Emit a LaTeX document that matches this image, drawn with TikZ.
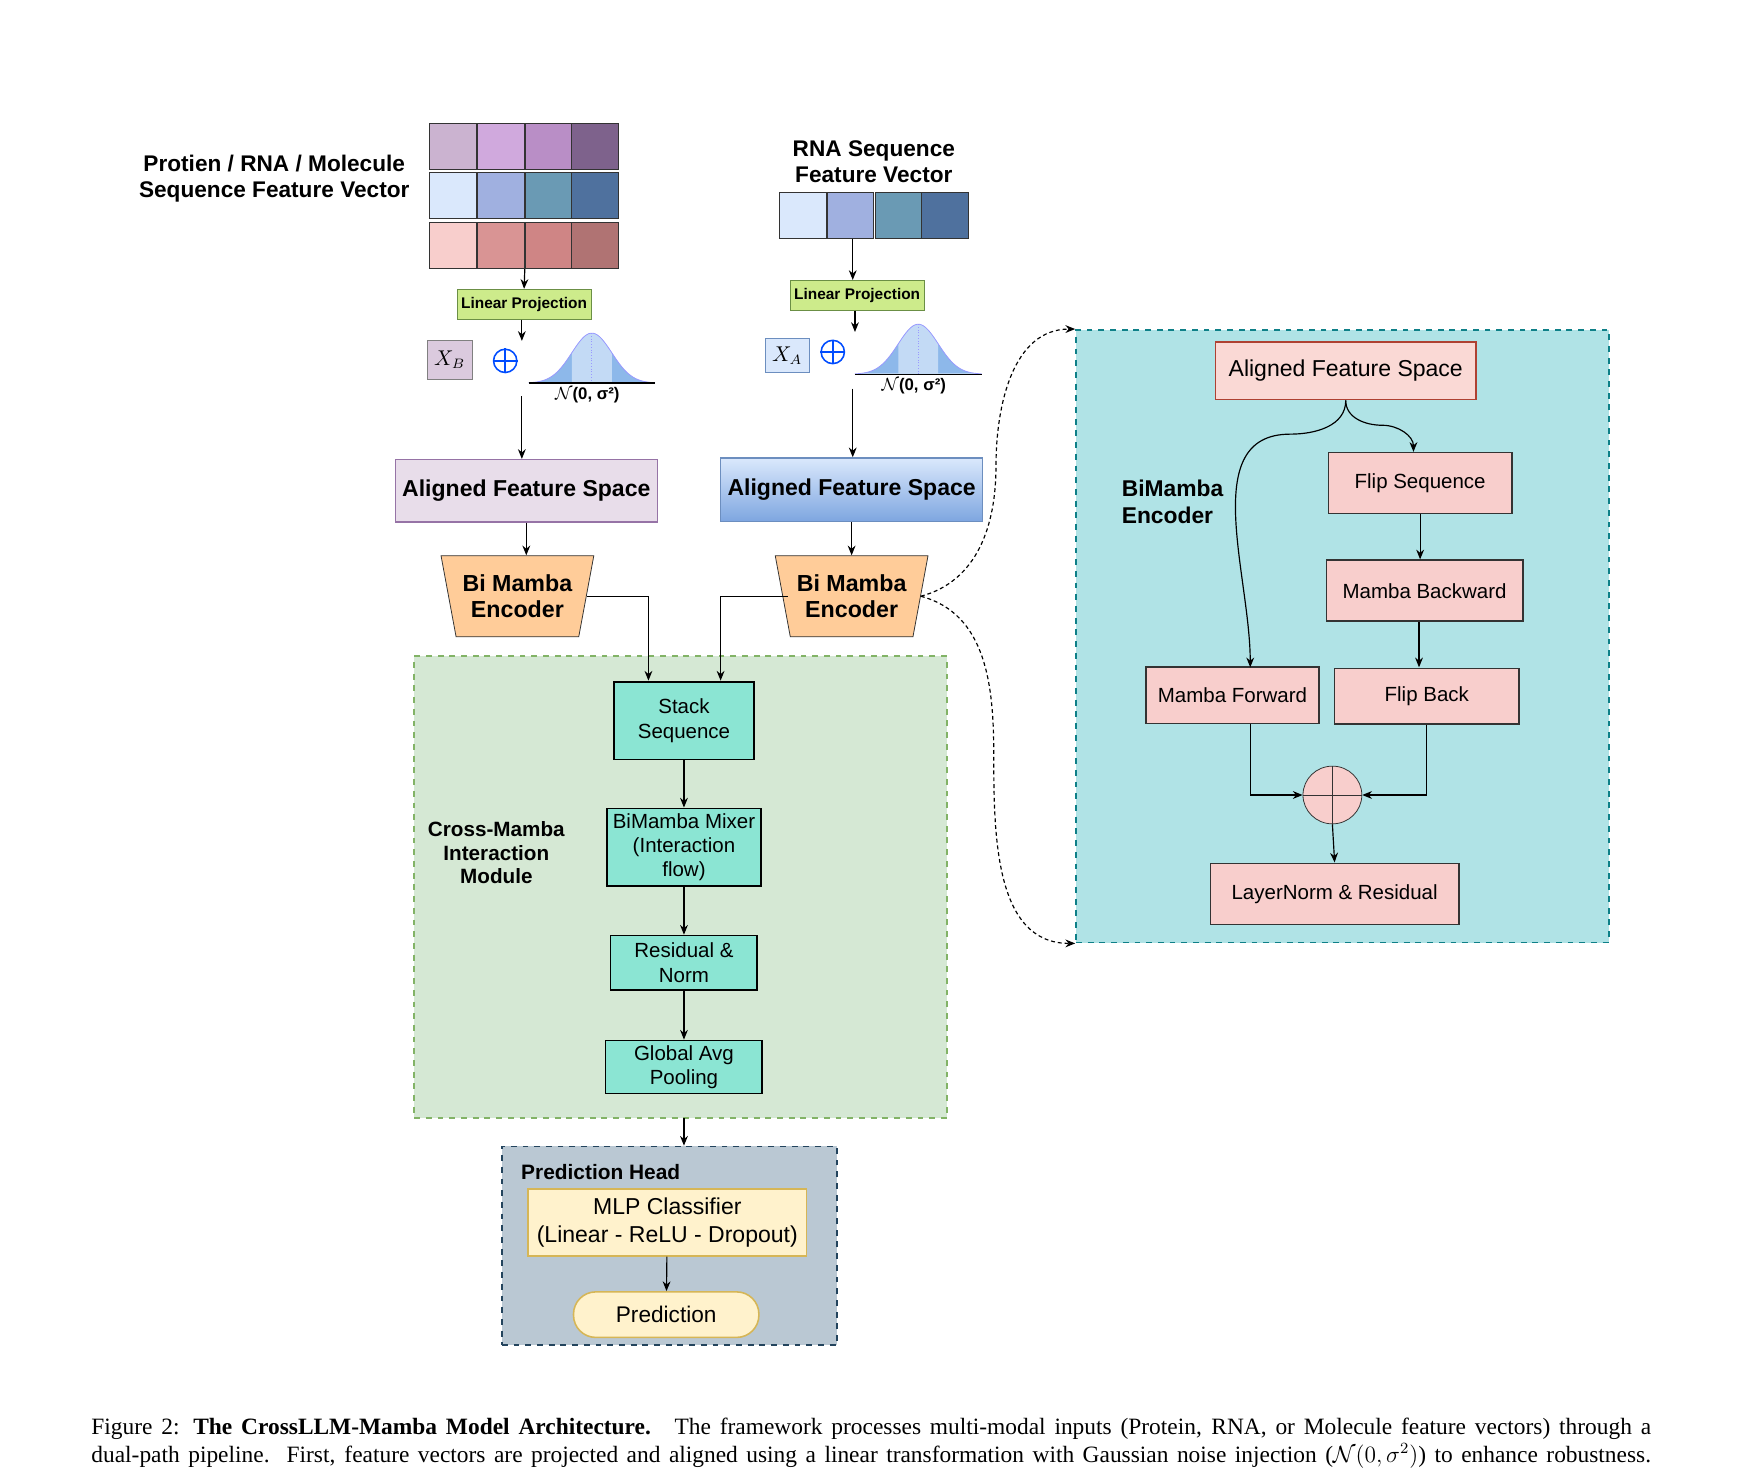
\documentclass[tikz,border=0pt]{standalone}
\usepackage{fontspec}
\setmainfont{Liberation Serif}
\setsansfont{Liberation Sans}
\usetikzlibrary{shapes.geometric,arrows.meta,positioning}
\definecolor{cellA1}{HTML}{CBB3D0}\definecolor{cellA2}{HTML}{D0A9DD}
\definecolor{cellA3}{HTML}{B98EC6}\definecolor{cellA4}{HTML}{7E628C}
\definecolor{cellB1}{HTML}{DAE8FC}\definecolor{cellB2}{HTML}{A0B0E0}
\definecolor{cellB3}{HTML}{6A9AB4}\definecolor{cellB4}{HTML}{4F719E}
\definecolor{cellC1}{HTML}{F8CECC}\definecolor{cellC2}{HTML}{D99494}
\definecolor{cellC3}{HTML}{CF8585}\definecolor{cellC4}{HTML}{B07373}
\definecolor{gauss}{HTML}{8DB8EA}\definecolor{gaussmid}{HTML}{C3DAF5}
\definecolor{teal}{HTML}{8BE5D3}\definecolor{pinkbox}{HTML}{F8CECC}
\definecolor{projfill}{HTML}{CDEB8B}\definecolor{projdraw}{HTML}{6B8F45}
\definecolor{crossfill}{HTML}{D5E8D4}\definecolor{crossdraw}{HTML}{82B366}
\definecolor{encfill}{HTML}{B0E3E6}\definecolor{encdraw}{HTML}{0E8088}
\definecolor{headfill}{HTML}{BAC8D3}\definecolor{headdraw}{HTML}{23445D}
\definecolor{mlpfill}{HTML}{FFF2CC}\definecolor{mlpdraw}{HTML}{D6B656}
\definecolor{afsfill}{HTML}{FAD9D5}\definecolor{afsdraw}{HTML}{AE4132}
\definecolor{violetdraw}{HTML}{9673A6}\definecolor{bluedraw}{HTML}{6C8EBF}
\definecolor{bluedeep}{HTML}{7EA6E0}\definecolor{trapfill}{HTML}{FFCC99}
\begin{document}
\begin{tikzpicture}
          [x={(0.02cm,0)},y={(0,-0.02cm)},font=\sffamily\fontsize{10.5}{12.5}\selectfont,
          arr/.style={-{Stealth[length=5pt,width=4pt]},semithick},
          dots/.style={-{Stealth[length=5pt,width=4pt]},semithick,dash pattern=on 2pt off 1.5pt},
          cell/.style={draw=black!80,minimum width=0.84cm,minimum height=0.84cm,inner sep=0},
          proj/.style={draw=projdraw,fill=projfill,font=\sffamily\bfseries\fontsize{7.9}{9}\selectfont,inner sep=2pt,minimum height=0.54cm},
          title/.style={font=\sffamily\bfseries\fontsize{11.6}{13.4}\selectfont,align=center},
          enc/.style={trapezium,shape border rotate=180,trapezium stretches=true,trapezium angle=75,draw=black!80,fill=trapfill,minimum width=2.7cm,minimum height=1.46cm,font=\sffamily\bfseries\fontsize{11.9}{13.4}\selectfont,align=center},
          teal box/.style={draw=black,thick,fill=teal,align=center,inner sep=1pt},
          pink box/.style={draw=black!80,thick,fill=pinkbox,align=center,font=\sffamily\fontsize{10.5}{12}\selectfont}]

  \useasboundingbox (0,0) rectangle (1568,1328);

  % input matrices
  \foreach \r/\y in {A/132,B/176,C/221}
    \foreach \c/\x in {1/408,2/451,3/494,4/536}
      \node (m\r\c) [cell,fill=cell\r\c] at (\x,\y) {};
  \foreach \c/\x in {1/723,2/766,3/809,4/851}
    \node (r\c) [cell,fill=cellB\c] at (\x,194) {};
  \node (tL) [title] at (247,161) {Protien / RNA / Molecule\\Sequence Feature Vector};
  \node (tR) [title] at (787,146) {RNA Sequence\\Feature Vector};

  % projection
  \node (pL) [proj] at (472,274) {Linear Projection};
  \node (pR) [proj] at (772,266) {Linear Projection};
  \draw [arr] (mC3.south west) -- (pL.north);
  \coordinate (rOut) at (768,215);
  \draw [arr] (rOut) -- (rOut |- pR.north);
  \coordinate (nL) at (470,307);
  \coordinate (nR) at (770,299);
  \draw [arr] (pL.south) ++(-2,0) -- (nL);
  \draw [arr] (pR.south) ++(-2,0) -- (nR);

  \node (xB) [draw=black!50,fill=cellA1!70!white,minimum width=0.8cm,minimum height=0.7cm] at (405,324) {$X_B$};
  \node (xA) [draw=bluedraw,fill=cellB1,minimum width=0.8cm,minimum height=0.6cm] at (709,320) {$X_A$};
  \foreach \n/\p in {oL/{(455,325)},oR/{(750,317)}} {
    \node (\n) [circle,draw=blue!70!cyan,thick,minimum size=0.42cm,inner sep=0] at \p {};
    \draw [blue!70!cyan,thick] (\n.north) -- (\n.south) (\n.west) -- (\n.east);
  }

  % gaussian noise
  \foreach \n/\m/\b in {gL/533/345,gR/827/337} {
    \fill [gauss] plot[domain=-55:55,samples=60] ({\m+\x},{\b-45*exp(-(\x*\x)/648)}) -- cycle;
    \fill [gaussmid] plot[domain=-18:18,samples=20] ({\m+\x},{\b-45*exp(-(\x*\x)/648)}) -- (\m+18,\b) -- (\m-18,\b) -- cycle;
    \draw [blue!40,thin] plot[domain=-57:57,samples=60] ({\m+\x},{\b-45*exp(-(\x*\x)/648)});
    \draw [blue!40,thin,densely dotted] (\m,\b) -- (\m,\b-45);
    \draw [semithick] (\m-57,\b) -- (\m+57,\b);
    \node (\n) [font=\sffamily\bfseries\fontsize{8.6}{9}\selectfont] at (\m-4,\b+11) {$\mathcal{N}$(0, σ²)};
  }

  % aligned spaces and encoders
  \node (aL) [draw=violetdraw,thick,fill=cellA1!45!white,minimum width=4.72cm,minimum height=1.12cm,font=\sffamily\bfseries\fontsize{11.8}{13}\selectfont] at (474,442) {Aligned Feature Space};
  \node (aR) [draw=bluedraw,thick,top color=cellB1,bottom color=bluedeep,minimum width=4.72cm,minimum height=1.14cm,font=\sffamily\bfseries\fontsize{11.8}{13}\selectfont] at (767,441) {Aligned Feature Space};
  \coordinate (sL) at (470,357);
  \coordinate (sR) at (768,350);
  \draw [arr] (sL) -- (sL |- aL.north);
  \draw [arr] (sR) -- (sR |- aR.north);
  \node (encL) [enc] at (466,537) {Bi Mamba\\Encoder};
  \node (encR) [enc] at (767,537) {Bi Mamba\\Encoder};
  \draw [arr] (aL.south) -- (encL.north -| aL.south);
  \draw [arr] (aR.south) -- (encR.north -| aR.south);

  % cross-mamba module
  \node (cross) [draw=crossdraw,dashed,thick,fill=crossfill,minimum width=9.6cm,minimum height=8.32cm] at (613,799) {};
  \node (crossT) [title,font=\sffamily\bfseries\fontsize{10.6}{12}\selectfont] at (447,768) {Cross-Mamba\\Interaction\\Module};
  \node (stack) [teal box,minimum width=2.52cm,minimum height=1.4cm] at (616,649) {Stack\\Sequence};
  \node (mixer) [teal box,minimum width=2.78cm,minimum height=1.4cm] at (616,763) {BiMamba Mixer\\(Interaction\\flow)};
  \node (res) [teal box,minimum width=2.64cm,minimum height=0.98cm] at (616,867) {Residual \&\\Norm};
  \node (pool) [teal box,minimum width=2.82cm,minimum height=0.96cm] at (616,961) {Global Avg\\Pooling};
  \draw [arr] (encL.east) -| (584,613);
  \draw [arr] (encR.west) ++(5,0) -| (649,613);
  \draw [arr] (stack) -- (mixer);
  \draw [arr] (mixer) -- (res);
  \draw [arr] (res) -- (pool);

  % prediction head
  \node (head) [draw=headdraw,dashed,thick,fill=headfill,minimum width=6.04cm,minimum height=3.58cm] at (603,1122) {};
  \node (headT) [font=\sffamily\bfseries\fontsize{10.7}{12}\selectfont] at (541,1056) {Prediction Head};
  \node (mlp) [draw=mlpdraw,thick,fill=mlpfill,align=center,minimum width=5.02cm,minimum height=1.2cm,font=\sffamily\fontsize{11.8}{14}\selectfont] at (601,1101) {MLP Classifier\\(Linear - ReLU - Dropout)};
  \node (pred) [draw=mlpdraw,thick,fill=mlpfill,rounded corners=0.4cm,minimum width=3.34cm,minimum height=0.82cm,font=\sffamily\fontsize{11.6}{13}\selectfont] at (600,1184) {Prediction};
  \coordinate (crossOut) at (616,1007);
  \draw [arr] (crossOut) -- (crossOut |- head.north);
  \draw [arr] (mlp) -- (pred);

  % bimamba encoder detail
  \node (rbox) [draw=encdraw,dashed,thick,fill=encfill,minimum width=9.6cm,minimum height=11.04cm] at (1209,573) {};
  \node (rbT) [title,align=left,font=\sffamily\bfseries\fontsize{11.7}{13.4}\selectfont] at (1056,452) {BiMamba\\Encoder};
  \node (afs) [pink box,draw=afsdraw,fill=afsfill,minimum width=4.7cm,minimum height=1.04cm,font=\sffamily\fontsize{11.8}{13}\selectfont] at (1212,334) {Aligned Feature Space};
  \node (flip) [pink box,minimum width=3.3cm,minimum height=1.1cm] at (1279,435) {Flip Sequence};
  \node (mback) [pink box,minimum width=3.54cm,minimum height=1.1cm] at (1283,532) {Mamba Backward};
  \node (mfwd) [pink box,minimum width=3.12cm,minimum height=1.02cm] at (1110,626) {Mamba Forward};
  \node (fback) [pink box,minimum width=3.32cm,minimum height=1.0cm] at (1285,627) {Flip Back};
  \node (sum) [ellipse,draw=black!80,fill=pinkbox,minimum width=1.06cm,minimum height=1.04cm,inner sep=0] at (1200,716) {};
  \draw [black!80] (sum.north) -- (sum.south) (sum.west) -- (sum.east);
  \node (ln) [pink box,minimum width=4.48cm,minimum height=1.1cm] at (1202,805) {LayerNorm \& Residual};
  \coordinate (fwdIn) at (1126,601);
  \coordinate (flipIn) at (1273,407);
  \draw [arr] (afs.south) to[out=-90,in=0] (1162,391) to[out=180,in=90] (fwdIn);
  \draw [arr] (afs.south) to[out=-90,in=180] (1245,383) to[out=0,in=90] (flipIn);
  \draw [arr] (flip.south) -- (mback.north -| flip.south);
  \draw [arr] (mback.south) ++(-5,0) -- (1278,601);
  \draw [arr] (mfwd.south) ++(16,0) |- (sum.west);
  \draw [arr] (fback.south) |- (sum.east);
  \draw [arr] (sum.south) -- (ln.north);

  % links to the detail box
  \draw [dots] (encR.east) to[out=15,in=-90] (897,420) to[out=90,in=180] (rbox.north west);
  \draw [dots] (encR.east) to[out=-15,in=90] (895,680) to[out=-90,in=180] (rbox.south west);

  % caption
  \node (cap1) [anchor=base west,font=\rmfamily\fontsize{12}{14}\selectfont,inner sep=0] at (82,1292) {\makebox[28.1cm][s]{Figure 2: \textbf{The CrossLLM-Mamba Model Architecture.}\hspace{0.3em} The framework processes multi-modal inputs (Protein, RNA, or Molecule feature vectors) through a}};
  \node (cap2) [anchor=base west,font=\rmfamily\fontsize{12}{14}\selectfont,inner sep=0] at (82,1317) {\makebox[28.1cm][s]{dual-path pipeline.\ \ First, feature vectors are projected and aligned using a linear transformation with Gaussian noise injection ($\mathcal{N}(0,\sigma^2)$) to enhance robustness.}};

\end{tikzpicture}
\end{document}
